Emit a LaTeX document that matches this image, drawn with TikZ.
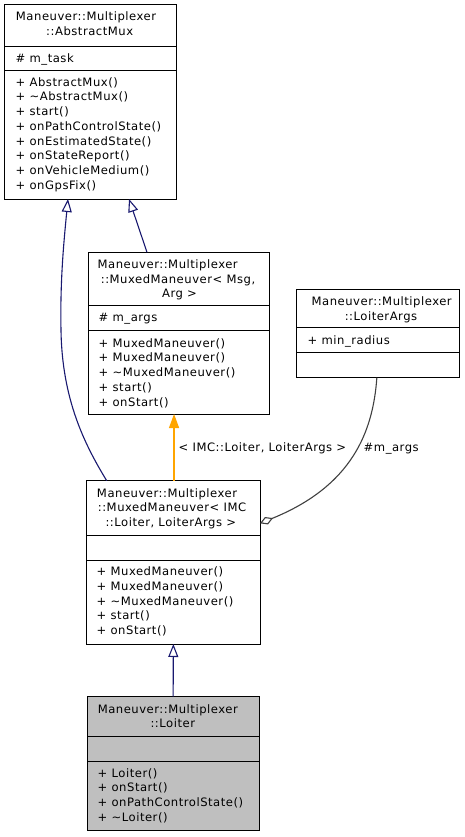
\documentclass[tikz,border=0pt]{standalone}
\usepackage{fontspec}
\setmainfont{DejaVu Sans}[LetterSpace=4.5]
\usetikzlibrary{arrows.meta}
\definecolor{edgeblue}{HTML}{191970}
\definecolor{tmplorange}{HTML}{FFA500}
\definecolor{aggray}{HTML}{404040}
\definecolor{curgray}{HTML}{BFBFBF}
\newcommand\dxfont{\fontsize{11.6pt}{14.7pt}\selectfont}
\newcommand\umlbox[8]{%
  \node[umlrect, fill=#8, minimum width={#4pt-#2pt}, minimum height={#5pt-#3pt}] (#1) at (#2,#3) {};
  \draw[divline] (#2,#6) -- (#4,#6);
  \draw[divline] (#2,#7) -- (#4,#7);
}
\tikzset{
  umlrect/.style={draw=black, line width=1pt, anchor=north west, inner sep=0pt, outer sep=0pt},
  divline/.style={draw=black, line width=1pt},
  ttl/.style={font=\dxfont, inner sep=0pt, anchor=base},
  mem/.style={font=\dxfont, inner sep=0pt, anchor=north west, align=left},
  lbl/.style={font=\dxfont, inner sep=0pt, anchor=base west},
  inh/.style={draw=edgeblue, line width=1.1pt, -{Triangle[open, length=13pt, width=10pt]}},
  tmpl/.style={draw=tmplorange, line width=1.3pt, -{Triangle[length=14pt, width=10pt, fill=tmplorange]}},
  agg/.style={draw=aggray, line width=1.1pt, -{Diamond[open, length=14pt, width=8pt]}},
}
\begin{document}
\begin{tikzpicture}[x=1pt,y=-1pt]
\fill[white] (0,0) rectangle (465,837);
\useasboundingbox (0,0) rectangle (465,837);

% AbstractMux
\umlbox{am}{4.3}{5}{176.7}{199}{47}{71}{white}
\node[ttl] (am-t1) at (86,21) {Maneuver::Multiplexer};
\node[ttl] (am-t2) at (89.7,36) {::AbstractMux};
\node[mem] (am-a) at (15.5,51.71) {\strut\# m\_task};
\node[mem] (am-m) at (15.5,75.71) {\strut+ AbstractMux()\\+ \textasciitilde AbstractMux()\\+ start()\\+ onPathControlState()\\+ onEstimatedState()\\+ onStateReport()\\+ onVehicleMedium()\\+ onGpsFix()};

% MuxedManeuver< Msg, Arg >
\umlbox{mma}{88.3}{252.3}{269.3}{414}{305.7}{330}{white}
\node[ttl] (mma-t1) at (167.7,268) {Maneuver::Multiplexer};
\node[ttl] (mma-t2) at (178,283) {::MuxedManeuver< Msg,};
\node[ttl] (mma-t3) at (179.5,297.7) {Arg >};
\node[mem] (mma-a) at (98.5,310.71) {\strut\# m\_args};
\node[mem] (mma-m) at (98.5,336.71) {\strut+ MuxedManeuver()\\+ MuxedManeuver()\\+ \textasciitilde MuxedManeuver()\\+ start()\\+ onStart()};

% LoiterArgs
\umlbox{la}{296.7}{289}{459}{377.7}{327.7}{352.7}{white}
\node[ttl] (la-t1) at (381.7,305) {Maneuver::Multiplexer};
\node[ttl] (la-t2) at (381,320) {::LoiterArgs};
\node[mem] (la-a) at (307.5,333.71) {\strut+ min\_radius};

% MuxedManeuver< IMC::Loiter, LoiterArgs >
\umlbox{mml}{86.7}{480.7}{260}{644}{535}{560}{white}
\node[ttl] (mml-t1) at (167,497) {Maneuver::Multiplexer};
\node[ttl] (mml-t2) at (172,511.7) {::MuxedManeuver< IMC};
\node[ttl] (mml-t3) at (170.8,526) {::Loiter, LoiterArgs >};
\node[mem] (mml-m) at (96.5,565.21) {\strut+ MuxedManeuver()\\+ MuxedManeuver()\\+ \textasciitilde MuxedManeuver()\\+ start()\\+ onStart()};

% Loiter
\umlbox{lo}{87.3}{696.7}{259}{830.7}{736.7}{761.7}{curgray}
\node[ttl] (lo-t1) at (167.8,713) {Maneuver::Multiplexer};
\node[ttl] (lo-t2) at (172.8,727.5) {::Loiter};
\node[mem] (lo-m) at (97.5,766.71) {\strut+ Loiter()\\+ onStart()\\+ onPathControlState()\\+ \textasciitilde Loiter()};

% connectors
\draw[inh] (lo.north) -- (mml.south);
\draw[tmpl] ([xshift=0.7pt]mml.north) -- ([xshift=0.7pt]mml.north |- mma.south);
\draw[inh] ([xshift=-31.8pt]mma.north) -- ([xshift=38.5pt]am.south);
\draw[inh] ([xshift=20pt]mml.north west) .. controls (85,445) and (62,400) .. (61,330)
  .. controls (60,280) and (64,240) .. ([xshift=63.7pt]am.south west);
\draw[agg] ([xshift=-1pt]la.south) .. controls (373,432) and (352,486) .. ([yshift=39pt]mml.east);

% labels
\node[lbl] (lbl-tmpl) at (178.5,451) {< IMC::Loiter, LoiterArgs >};
\node[lbl] (lbl-agg) at (363.5,451) {\#m\_args};
\end{tikzpicture}
\end{document}
